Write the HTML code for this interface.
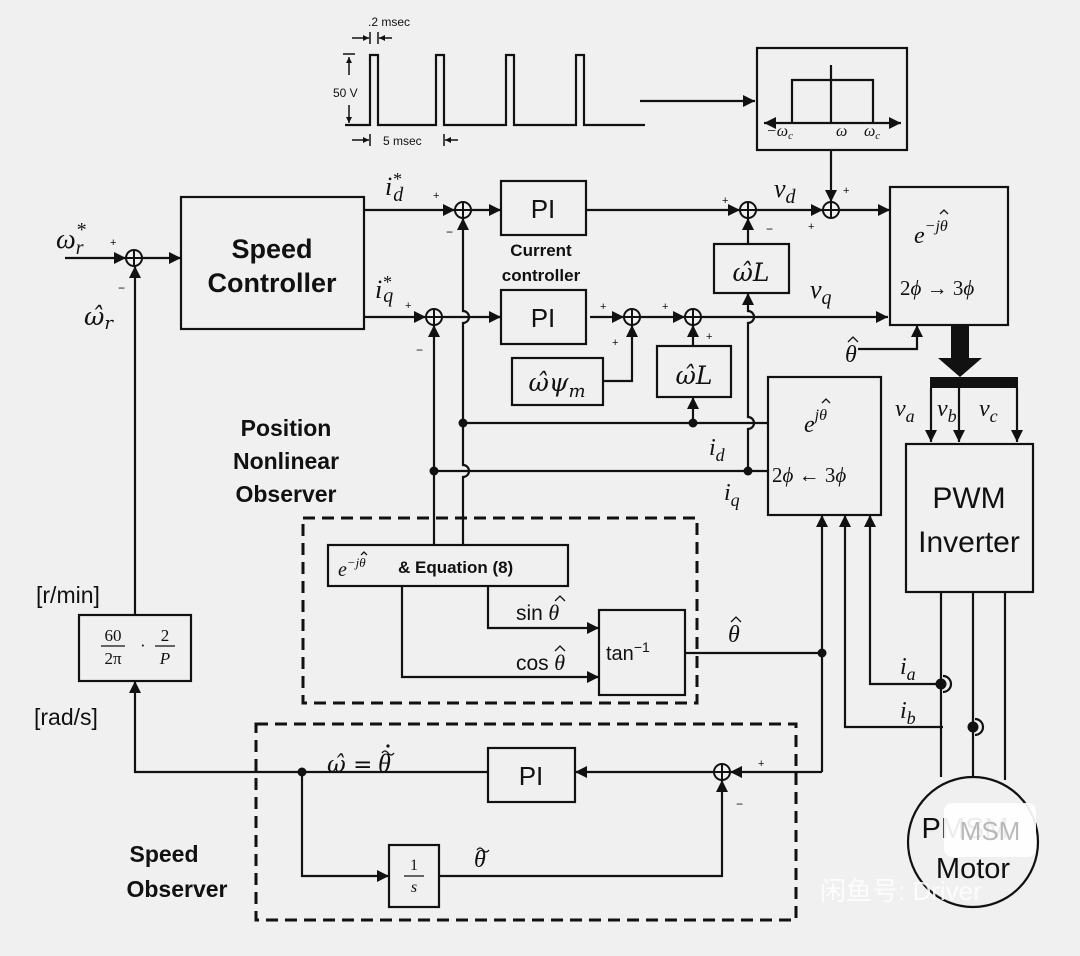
<!DOCTYPE html>
<html><head><meta charset="utf-8"><style>
html,body{margin:0;padding:0;background:#f0f0f0}
svg{display:block}
.b{font-family:"Liberation Sans",sans-serif;font-weight:bold}
.s{font-family:"Liberation Sans",sans-serif}
.m{font-family:"Liberation Serif",serif;font-style:italic}
.h{font-family:"DejaVu Serif",serif;font-style:italic}
.r{font-family:"Liberation Serif",serif}
</style></head><body>
<svg width="1080" height="956" viewBox="0 0 1080 956" xmlns="http://www.w3.org/2000/svg">
<defs><marker id="a" viewBox="0 0 10 10" refX="10" refY="5" markerWidth="6" markerHeight="6" orient="auto" markerUnits="userSpaceOnUse"><path d="M0,0L10,5L0,10z" fill="#111"/></marker>
<marker id="a2" viewBox="0 0 10 10" refX="10" refY="5" markerWidth="12" markerHeight="12" orient="auto" markerUnits="userSpaceOnUse"><path d="M0,0L10,5L0,10z" fill="#111"/></marker></defs>
<rect width="1080" height="956" fill="#f0f0f0"/>
<g stroke="#111" stroke-width="2.2" fill="none">
<path d="M345,125H370V55H378V125H436V55H444V125H506V55H514V125H576V55H584V125H645"/>
<path d="M640,101H755" marker-end="url(#a2)"/>
<g stroke-width="1.5" marker-end="url(#a)">
<path d="M349,75V57"/><path d="M349,105V123"/>
<path d="M352,38H369"/><path d="M392,38H379"/>
<path d="M352,140H369"/><path d="M458,140H445"/>
</g>
<path d="M343,54H355M370,32V44M378,32V44M370,134V146M444,134V146" stroke-width="1.5"/>
<rect x="757" y="48" width="150" height="102"/>
<path d="M792,123V80H873V123M831,65V123"/>
<path d="M831,123H901" marker-end="url(#a2)"/>
<path d="M831,123H764" marker-end="url(#a2)"/>
<path d="M831,150V202" marker-end="url(#a2)"/>
<rect x="181" y="197" width="183" height="132"/>
<rect x="501" y="181" width="85" height="54"/>
<rect x="501" y="290" width="85" height="54"/>
<rect x="714" y="244" width="75" height="49"/>
<rect x="512" y="358" width="91" height="47"/>
<rect x="657" y="346" width="74" height="51"/>
<rect x="890" y="187" width="118" height="138"/>
<rect x="768" y="377" width="113" height="138"/>
<rect x="906" y="444" width="127" height="148"/>
<rect x="79" y="615" width="112" height="66"/>
<rect x="328" y="545" width="240" height="41"/>
<rect x="599" y="610" width="86" height="85"/>
<rect x="488" y="748" width="87" height="54"/>
<rect x="389" y="845" width="50" height="62"/>
<circle cx="973" cy="842" r="65"/>
<rect x="303" y="518" width="394" height="185" stroke-width="3" stroke-dasharray="12,7"/>
<rect x="256" y="724" width="540" height="196" stroke-width="3" stroke-dasharray="12,7"/>
<g stroke-width="2"><circle cx="134" cy="258" r="8"/><path d="M126,258H142M134,250V266"/>
<circle cx="463" cy="210" r="8"/><path d="M455,210H471M463,202V218"/>
<circle cx="748" cy="210" r="8"/><path d="M740,210H756M748,202V218"/>
<circle cx="831" cy="210" r="8"/><path d="M823,210H839M831,202V218"/>
<circle cx="434" cy="317" r="8"/><path d="M426,317H442M434,309V325"/>
<circle cx="632" cy="317" r="8"/><path d="M624,317H640M632,309V325"/>
<circle cx="693" cy="317" r="8"/><path d="M685,317H701M693,309V325"/>
<circle cx="722" cy="772" r="8"/><path d="M714,772H730M722,764V780"/></g>
<g marker-end="url(#a2)">
<path d="M65,258H126"/>
<path d="M142,258H181"/>
<path d="M364,210H455"/>
<path d="M471,210H501"/>
<path d="M364,317H426"/>
<path d="M442,317H501"/>
<path d="M586,210H740"/>
<path d="M756,210H823"/>
<path d="M839,210H890"/>
<path d="M590,317H624"/>
<path d="M640,317H685"/>
<path d="M701,317H888"/>
<path d="M748,244V218"/>
<path d="M603,381H632V325"/>
<path d="M693,346V325"/>
<path d="M693,423V397"/>
<path d="M748,471V429a6,6 0 0 0 0,-12V323a6,6 0 0 0 0,-12V293"/>
<path d="M858,349H917V325"/>
<path d="M463,545V477a6,6 0 0 0 0,-12V323a6,6 0 0 0 0,-12V218"/>
<path d="M434,545V325"/>
<path d="M135,615V266"/>
<path d="M488,772H135V681"/>
<path d="M714,772H575"/>
<path d="M302,772V876H389"/>
<path d="M439,876H722V780"/>
<path d="M488,586V628H599"/>
<path d="M402,586V677H599"/>
<path d="M822,772H730"/>
<path d="M822,772V515"/>
<path d="M943,727H845V515"/>
<path d="M943,684H870V515"/>
<path d="M931,388V442"/><path d="M959,388V442"/><path d="M1017,388V442"/>
</g>
<path d="M463,423H768"/>
<path d="M434,471H768"/>
<path d="M685,653H822"/>
<path d="M941,592V777M973,592V777M1005,592V780"/>
<path d="M943,676a8,8 0 0 1 0,16M975,719a8,8 0 0 1 0,16"/>
</g>
<g fill="#111">
<path d="M951,325H969V358H982L960,377L938,358H951Z"/>
<rect x="930" y="377" width="88" height="11"/>
<circle cx="463" cy="423" r="4.5"/><circle cx="434" cy="471" r="4.5"/>
<circle cx="693" cy="423" r="4.5"/><circle cx="748" cy="471" r="4.5"/>
<circle cx="822" cy="653" r="4.5"/><circle cx="302" cy="772" r="4.5"/>
<circle cx="941" cy="684" r="5.5"/><circle cx="973" cy="727" r="5.5"/>
</g>
<g fill="#111">
<text x="368" y="26" class="s" font-size="12">.2 msec</text>
<text x="333" y="97" class="s" font-size="12">50 V</text>
<text x="383" y="145" class="s" font-size="12">5 msec</text>
<text x="766" y="136" class="m" font-size="16">−ω<tspan font-size="11" dy="3">c</tspan></text>
<text x="836" y="136" class="m" font-size="16">ω</text>
<text x="864" y="136" class="m" font-size="16">ω<tspan font-size="11" dy="3">c</tspan></text>
<text x="272" y="258" class="b" font-size="27" text-anchor="middle">Speed</text>
<text x="272" y="292" class="b" font-size="27" text-anchor="middle">Controller</text>
<text x="543" y="218" class="s" font-size="26" text-anchor="middle">PI</text>
<text x="543" y="327" class="s" font-size="26" text-anchor="middle">PI</text>
<text x="531" y="785" class="s" font-size="26" text-anchor="middle">PI</text>
<text x="541" y="256" class="b" font-size="17" text-anchor="middle">Current</text>
<text x="541" y="281" class="b" font-size="17" text-anchor="middle">controller</text>
<text x="286" y="436" class="b" font-size="23" text-anchor="middle">Position</text>
<text x="286" y="469" class="b" font-size="23" text-anchor="middle">Nonlinear</text>
<text x="286" y="502" class="b" font-size="23" text-anchor="middle">Observer</text>
<text x="164" y="862" class="b" font-size="23" text-anchor="middle">Speed</text>
<text x="177" y="897" class="b" font-size="23" text-anchor="middle">Observer</text>
<text x="969" y="508" class="s" font-size="30" text-anchor="middle">PWM</text>
<text x="969" y="552" class="s" font-size="30" text-anchor="middle">Inverter</text>
<text x="973" y="878" class="s" font-size="29" text-anchor="middle">Motor</text>
<text x="965" y="838" class="s" font-size="29" text-anchor="middle">PMSM</text>
<text x="56" y="248" class="m" font-size="28">ω<tspan font-size="20" dy="-12">*</tspan><tspan font-size="20" dx="-10" dy="18">r</tspan></text>
<text x="110" y="246" class="s" font-size="11">+</text>
<text x="118" y="292" class="s" font-size="12">−</text>
<text x="84" y="325" class="h" font-size="25">ω̂<tspan font-size="18" dy="4">r</tspan></text>
<text x="385" y="195" class="m" font-size="26">i<tspan font-size="18" dy="-10">*</tspan><tspan font-size="20" dx="-8" dy="16">d</tspan></text>
<text x="433" y="199" class="s" font-size="11">+</text>
<text x="446" y="236" class="s" font-size="12">−</text>
<text x="375" y="298" class="m" font-size="26">i<tspan font-size="18" dy="-10">*</tspan><tspan font-size="20" dx="-8" dy="14">q</tspan></text>
<text x="405" y="309" class="s" font-size="11">+</text>
<text x="416" y="354" class="s" font-size="12">−</text>
<text x="722" y="204" class="s" font-size="11">+</text>
<text x="766" y="233" class="s" font-size="12">−</text>
<text x="774" y="197" class="m" font-size="26">v<tspan font-size="20" dy="6">d</tspan></text>
<text x="843" y="194" class="s" font-size="11">+</text>
<text x="808" y="230" class="s" font-size="11">+</text>
<text x="810" y="298" class="m" font-size="26">v<tspan font-size="20" dy="6">q</tspan></text>
<text x="600" y="310" class="s" font-size="11">+</text>
<text x="612" y="346" class="s" font-size="11">+</text>
<text x="662" y="310" class="s" font-size="11">+</text>
<text x="706" y="340" class="s" font-size="11">+</text>
<text x="751" y="281" class="h" font-size="25" text-anchor="middle">ω̂L</text>
<text x="694" y="384" class="h" font-size="25" text-anchor="middle">ω̂L</text>
<text x="557" y="391" class="h" font-size="25" text-anchor="middle">ω̂ψ<tspan font-size="18" dy="6">m</tspan></text>
<text x="914" y="243" class="m" font-size="24">e<tspan font-size="16" dy="-12">−jθ</tspan></text>
<text x="900" y="295" class="r" font-size="21">2<tspan class="m">ϕ</tspan> → 3<tspan class="m">ϕ</tspan></text>
<text x="845" y="362" class="m" font-size="24">θ</text>
<text x="804" y="432" class="m" font-size="24">e<tspan font-size="16" dy="-12">jθ</tspan></text>
<text x="772" y="482" class="r" font-size="21">2<tspan class="m">ϕ</tspan> ← 3<tspan class="m">ϕ</tspan></text>
<text x="709" y="455" class="m" font-size="24">i<tspan font-size="18" dy="6">d</tspan></text>
<text x="724" y="500" class="m" font-size="24">i<tspan font-size="18" dy="6">q</tspan></text>
<text x="895" y="416" class="m" font-size="24">v<tspan font-size="18" dy="6">a</tspan></text>
<text x="937" y="416" class="m" font-size="24">v<tspan font-size="18" dy="6">b</tspan></text>
<text x="979" y="416" class="m" font-size="24">v<tspan font-size="18" dy="6">c</tspan></text>
<text x="338" y="576" class="m" font-size="20">e<tspan font-size="13" dy="-9">−jθ</tspan></text>
<text x="398" y="573" class="b" font-size="17">&amp;  Equation (8)</text>
<text x="516" y="620" class="s" font-size="21">sin<tspan class="m" font-size="22"> θ</tspan></text>
<text x="516" y="670" class="s" font-size="21">cos<tspan class="m" font-size="22"> θ</tspan></text>
<text x="606" y="660" class="s" font-size="20">tan<tspan font-size="14" dy="-8">−1</tspan></text>
<text x="728" y="642" class="m" font-size="24">θ</text>
<text x="900" y="674" class="m" font-size="24">i<tspan font-size="18" dy="6">a</tspan></text>
<text x="900" y="718" class="m" font-size="24">i<tspan font-size="18" dy="6">b</tspan></text>
<text x="36" y="603" class="s" font-size="23">[r/min]</text>
<text x="34" y="725" class="s" font-size="23">[rad/s]</text>
<text x="113" y="641" class="r" font-size="17" text-anchor="middle">60</text>
<path d="M101,646H125M155,646H175" stroke="#111" stroke-width="1.3"/>
<text x="113" y="664" class="r" font-size="17" text-anchor="middle">2π</text>
<text x="140" y="651" class="r" font-size="17">·</text>
<text x="165" y="641" class="r" font-size="17" text-anchor="middle">2</text>
<text x="165" y="664" class="m" font-size="17" text-anchor="middle">P</text>
<text x="327" y="772" class="h" font-size="23">ω̂ =</text>
<text x="378" y="772" class="m" font-size="26">θ</text>
<text x="474" y="867" class="m" font-size="24">θ</text>
<text x="414" y="870" class="r" font-size="16" text-anchor="middle">1</text>
<path d="M404,876H424" stroke="#111" stroke-width="1.3"/>
<text x="414" y="892" class="m" font-size="16" text-anchor="middle">s</text>
<text x="758" y="767" class="s" font-size="11">+</text>
<text x="736" y="808" class="s" font-size="12">−</text>
</g>
<!-- hats / tildes -->
<g stroke="#111" stroke-width="1.3" fill="none">
<path d="M848,342L853,337L858,342"/>
<path d="M731,622L736,617L741,622"/>
<path d="M555,601L560,596L565,601"/>
<path d="M555,651L560,646L565,651"/>
<path d="M940,214L944,210L948,214"/>
<path d="M822,403L826,399L830,403"/>
<path d="M361,555L364,552L367,555"/>
<path d="M477,850q3,-4 6,0t6,0"/>
<path d="M382,753q3,-4 6,0t6,0"/>
</g>
<circle cx="388" cy="746" r="1.6" fill="#111"/>
<rect x="944" y="803" width="92" height="54" rx="8" fill="#fff" opacity="0.92"/>
<text x="990" y="840" class="s" font-size="26" fill="#aaa" text-anchor="middle" opacity="0.8">MSM</text>
<text x="820" y="900" class="s" font-size="26" fill="#fff" opacity="0.85">闲鱼号: Driver</text>
</svg>
</body></html>
